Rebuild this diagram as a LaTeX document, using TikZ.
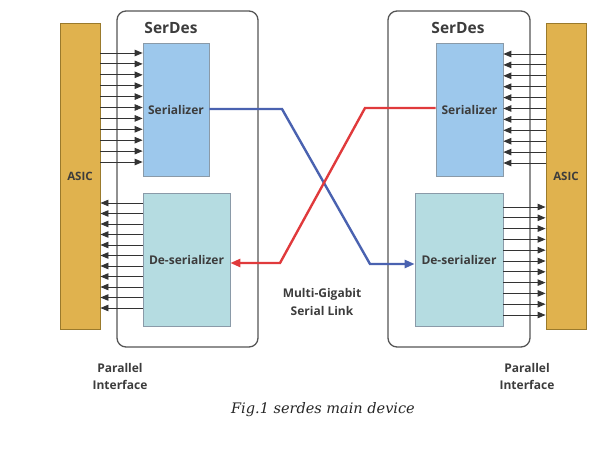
\documentclass[tikz,border=0pt]{standalone}
\usepackage{fontspec}
\setmainfont{Open Sans}
\newfontfamily\capfont{DejaVu Serif}
\usetikzlibrary{arrows.meta,calc}
\definecolor{asicfill}{HTML}{E0B24E}
\definecolor{asicdraw}{HTML}{9A7A2C}
\definecolor{serfill}{HTML}{9DC8EC}
\definecolor{desfill}{HTML}{B5DCE1}
\definecolor{boxdraw}{HTML}{8A9AA8}
\definecolor{txt}{HTML}{3C3C3C}
\definecolor{linkblue}{HTML}{4A62B0}
\definecolor{linkred}{HTML}{E03A3C}
\definecolor{serdesdraw}{HTML}{555555}
\tikzset{
  asicbox/.style={draw=asicdraw,fill=asicfill,line width=0.9pt,minimum width=40pt,minimum height=306pt,inner sep=0pt,text=txt,font=\bfseries\fontsize{11.5}{12}\selectfont},
  serdesbox/.style={draw=serdesdraw,line width=1.3pt,rounded corners=9pt,minimum height=336pt,inner sep=0pt},
  serbox/.style={draw=boxdraw,fill=serfill,line width=0.7pt,minimum width=66pt,minimum height=133pt,inner sep=0pt,text=txt,font=\bfseries\fontsize{12}{13}\selectfont},
  desbox/.style={draw=boxdraw,fill=desfill,line width=0.7pt,minimum width=87pt,minimum height=133pt,inner sep=0pt,text=txt,font=\bfseries\fontsize{12}{13}\selectfont},
  lbl/.style={text=txt,font=\bfseries\fontsize{12}{13}\selectfont,inner sep=0pt},
  titlelbl/.style={text=txt,font=\bfseries\fontsize{15.5}{16}\selectfont,inner sep=0pt},
  bus/.style={draw=black!80,line width=0.9pt,-{Triangle[length=8pt,width=6.5pt]}},
  link/.style={line width=2.4pt,-{Triangle[length=10pt,width=8pt]}},
}
\begin{document}
\begin{tikzpicture}[x=1pt,y=-1pt]
\useasboundingbox (0,0) rectangle (615,458);
% outer SerDes boxes
\node[serdesbox,minimum width=141pt] (serdesL) at (187.5,179) {};
\node[serdesbox,minimum width=142pt] (serdesR) at (459,179) {};
\node[titlelbl] (tL) at (171,28) {SerDes};
\node[titlelbl] (tR) at (458,28) {SerDes};
% ASICs
\node[asicbox] (asicL) at (80,176) {ASIC};
\node[asicbox] (asicR) at (566,176) {ASIC};
% serializers and deserializers
\node[serbox] (serL) at (176,109.5) {Serializer};
\node[desbox] (desL) at (186.5,259.5) {De-serializer};
\node[serbox,minimum width=67pt] (serR) at (469.5,109.5) {Serializer};
\node[desbox,minimum width=88pt] (desR) at (459,259.5) {De-serializer};
% parallel buses
\foreach \i in {0,...,10}{
  \draw[bus] (asicL.east |- {0,53+\i*10.9}) -- (serL.west |- {0,53+\i*10.9});
  \draw[bus] (desL.west |- {0,203+\i*10.5}) -- (asicL.east |- {0,203+\i*10.5});
  \draw[bus] (asicR.west |- {0,54+\i*10.9}) -- (serR.east |- {0,54+\i*10.9});
  \draw[bus] (desR.east |- {0,207+\i*10.8}) -- (asicR.west |- {0,207+\i*10.8});
}
% serial links
\coordinate (b1) at (282,109);
\coordinate (b2) at (370,264);
\coordinate (r1) at (365,108);
\coordinate (r2) at (280,263);
\draw[link,draw=linkblue] (serL.east |- b1) -- (b1) -- (b2) -- (desR.west |- b2);
\draw[link,draw=linkred] (serR.west |- r1) -- (r1) -- (r2) -- (desL.east |- r2);
% labels
\node[lbl] (m1) at (322,294) {Multi-Gigabit};
\node[lbl] (m2) at (322,311) {Serial Link};
\node[lbl] (p1) at (120,368) {Parallel};
\node[lbl] (p2) at (120,385) {Interface};
\node[lbl] (p3) at (527,368) {Parallel};
\node[lbl] (p4) at (527,385) {Interface};
\node[text=black!85,font=\capfont\itshape\fontsize{14.5}{15}\selectfont,inner sep=0pt] (cap) at (323,410) {Fig.1 serdes main device};
\end{tikzpicture}
\end{document}
